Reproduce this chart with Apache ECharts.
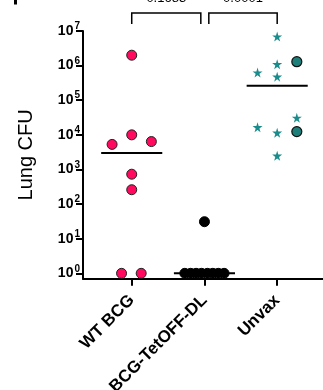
<!DOCTYPE html>
<html>
<head>
<meta charset="utf-8">
<script src="https://cdn.jsdelivr.net/npm/echarts@6/dist/echarts.min.js"></script>
<style>
  html, body { margin: 0; padding: 0; background: #fff; }
  #container { width: 323px; height: 390px; }
</style>
</head>
<body>
<div id="container"></div>
<script>
(function () {
    // groups on the x axis (positions 1, 2, 3)
    const groups = ['WT BCG', 'BCG-TetOFF-DL', 'Unvax'];
    const yTicks = [1, 10, 100, 1000, 10000, 100000, 1000000, 10000000];

    // WT BCG (pink circles): value + horizontal jitter
    const wtValues = [2.0e6, 1.0e4, 5.3e3, 6.4e3, 730, 260, 1, 1];
    const wtJitter = [0, 0, -0.27, 0.27, 0, 0, -0.14, 0.13];
    const wtMean = 3.0e3;

    // BCG-TetOFF-DL (black circles)
    const dlValues = [31, 1, 1, 1, 1, 1, 1, 1, 1];
    const dlJitter = [0, -0.27, -0.19, -0.115, -0.04, 0.04, 0.115, 0.19, 0.27];
    const dlMean = 1;

    // Unvax (teal stars + teal circles)
    const unStarValues = [6.9e6, 1.1e6, 6.3e5, 4.8e5, 3.1e4, 1.66e4, 1.15e4, 2.5e3];
    const unStarJitter = [0, 0, -0.27, 0, 0.27, -0.27, 0, 0];
    const unCircleValues = [1.3e6, 1.24e4];
    const unCircleJitter = [0.27, 0.27];
    const unMean = 2.6e5;

    // significance brackets [from, to] and their p-values
    const brackets = [[1, 1.95], [2.06, 3]];
    const pValues = ['0.1683', '0.0001'];

    const font = 'Liberation Sans, Arial, sans-serif';
    const star = 'path://M50,0 L61,35 L98,35 L68,57 L79,91 L50,70 L21,91 L32,57 L2,35 L39,35 Z';

    function pts(pos, vals, jit) {
        return vals.map((v, i) => [pos + jit[i], v]);
    }
    function meanLine(pos, v) {
        return {
            type: 'line', data: [[pos - 0.42, v], [pos + 0.42, v]],
            symbol: 'none', lineStyle: { color: '#000', width: 2 },
            z: 1, silent: true
        };
    }

    const chart = echarts.init(document.getElementById('container'));
    chart.setOption({
        animation: false,
        backgroundColor: '#fff',
        grid: { left: 83, right: 0, top: 31, bottom: 111.3, containLabel: false, outerBoundsMode: 'none' },
        xAxis: {
            type: 'value', min: 0.33, max: 3.63,
            splitLine: { show: false },
            axisLine: { show: true, lineStyle: { color: '#000', width: 2 } },
            axisTick: { show: true, customValues: [1, 2, 3], length: 7, lineStyle: { color: '#000', width: 2 } },
            axisLabel: {
                customValues: [1, 2, 3], rotate: 45, margin: 19,
                formatter: v => groups[Math.round(v) - 1],
                color: '#000', fontFamily: font, fontWeight: 'bold', fontSize: 17
            }
        },
        yAxis: {
            type: 'log', min: 0.7, max: 1e7,
            name: 'Lung CFU', nameLocation: 'middle', nameGap: 47,
            nameTextStyle: { color: '#000', fontFamily: font, fontSize: 20 },
            splitLine: { show: false },
            axisLine: { show: true, lineStyle: { color: '#000', width: 2 } },
            axisTick: { show: true, customValues: yTicks, length: 7, lineStyle: { color: '#000', width: 2 } },
            axisLabel: {
                customValues: yTicks, margin: 3,
                formatter: v => '{b|10}{s|' + Math.round(Math.log10(v)) + '}',
                rich: {
                    b: { color: '#000', fontFamily: font, fontWeight: 'bold', fontSize: 14 },
                    s: { color: '#000', fontFamily: font, fontWeight: 'bold', fontSize: 10, padding: [0, 0, 9, 1] }
                }
            }
        },
        series: [
            meanLine(1, wtMean),
            meanLine(2, dlMean),
            meanLine(3, unMean),
            {
                type: 'scatter', data: pts(1, wtValues, wtJitter), symbolSize: 10,
                itemStyle: { color: '#FF0A5F', borderColor: '#222', borderWidth: 1, opacity: 1 }, z: 3
            },
            {
                type: 'scatter', data: pts(2, dlValues, dlJitter), symbolSize: 10,
                itemStyle: { color: '#000', borderColor: '#000', borderWidth: 1, opacity: 1 }, z: 3
            },
            {
                type: 'scatter', data: pts(3, unStarValues, unStarJitter), symbol: star, symbolSize: 10,
                itemStyle: { color: '#1A8C8C', opacity: 1 }, z: 3
            },
            {
                type: 'scatter', data: pts(3, unCircleValues, unCircleJitter), symbolSize: 10,
                itemStyle: { color: '#1E7F7A', borderColor: '#111', borderWidth: 1.2, opacity: 1 }, z: 3
            }
        ]
    });

    // brackets and p-value text above the plot
    const g = [{ type: 'rect', shape: { x: 14, y: 0, width: 3, height: 4.5 }, style: { fill: '#000' } }];
    brackets.forEach((b, i) => {
        const x0 = chart.convertToPixel({ gridIndex: 0 }, [b[0], 1])[0];
        const x1 = chart.convertToPixel({ gridIndex: 0 }, [b[1], 1])[0];
        g.push({
            type: 'polyline',
            shape: { points: [[x0, 24], [x0, 13], [x1, 13], [x1, 24]] },
            style: { stroke: '#000', lineWidth: 1.5, fill: null }
        });
        g.push({
            type: 'text', x: (x0 + x1) / 2, y: 5,
            style: { text: pValues[i], fill: '#000', font: '13px ' + font, textAlign: 'center', textVerticalAlign: 'bottom' }
        });
    });
    chart.setOption({ graphic: g });
})();
</script>
</body>
</html>
